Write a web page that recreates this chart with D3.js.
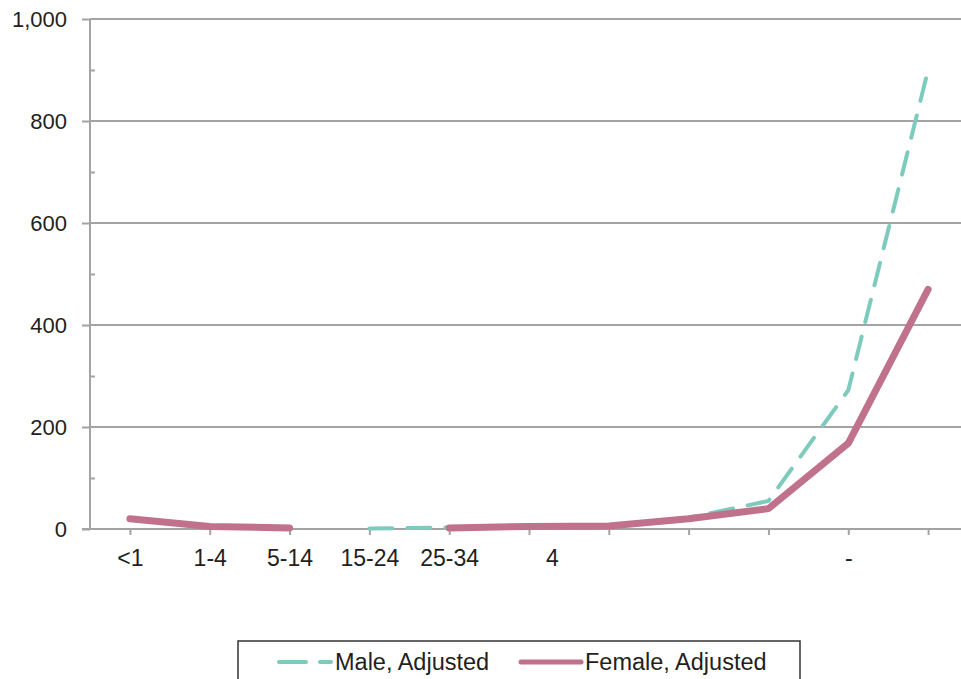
<!DOCTYPE html>
<html>
<head>
<meta charset="utf-8">
<script src="https://cdn.jsdelivr.net/npm/d3@7"></script>
<style>
  html, body { margin: 0; padding: 0; background: #fff; }
  svg { display: block; font-family: "Liberation Sans", Arial, sans-serif; }
</style>
</head>
<body>
<svg id="chart" width="961" height="679"></svg>
<script>
// ---- data ----
const categories = ["<1", "1-4", "5-14", "15-24", "25-34", "35-44", "45-54", "55-64", "65-74", "75-84", "85+"];
const tickLabels = ["<1", "1-4", "5-14", "15-24", "25-34", "4", "", "", "", "-", ""];
const maleAdjusted = [null, null, null, 1, 3, 5, 6, 22, 55, 272, 900];
const femaleAdjusted = [20, 5, 2, null, 2, 5, 6, 20, 40, 168, 470];
const yMajorTicks = [0, 200, 400, 600, 800, 1000];
const yMinorTicks = [100, 300, 500, 700, 900];
const seriesNames = ["Male, Adjusted", "Female, Adjusted"];

const svg = d3.select("#chart");
const gridColor = "#a3a3a3";
const textColor = "#231f20";
const maleColor = "#7ecbbe";
const femaleColor = "#c0728c";

const x = d3.scalePoint().domain(d3.range(categories.length)).range([90, 968]).padding(0.5);
const y = d3.scaleLinear().domain([0, 1000]).range([529, 19]);

// gridlines
svg.append("g").selectAll("line").data(yMajorTicks.filter(d => d > 0)).join("line")
  .attr("x1", 90).attr("x2", 961)
  .attr("y1", d => y(d)).attr("y2", d => y(d))
  .attr("stroke", gridColor).attr("stroke-width", 2);

// y axis major
const yAxis = svg.append("g").attr("transform", "translate(90,0)")
  .call(d3.axisLeft(y).tickValues(yMajorTicks).tickSize(8).tickPadding(15).tickFormat(d3.format(",")));
yAxis.select(".domain").remove();
yAxis.selectAll(".tick line").attr("stroke", gridColor).attr("stroke-width", 2);
yAxis.selectAll(".tick text").attr("fill", textColor).style("font-size", "22px")
  .style("font-family", "'Liberation Sans', Arial, sans-serif");

// y axis minor
const yMinor = svg.append("g").attr("transform", "translate(90,0)")
  .call(d3.axisRight(y).tickValues(yMinorTicks).tickSize(5).tickFormat(""));
yMinor.select(".domain").remove();
yMinor.selectAll(".tick line").attr("stroke", gridColor).attr("stroke-width", 2);

// y axis line
svg.append("line").attr("x1", 90).attr("x2", 90).attr("y1", y(1000)).attr("y2", y(0))
  .attr("stroke", gridColor).attr("stroke-width", 2);

// x axis
svg.append("line").attr("x1", 82).attr("x2", 961).attr("y1", y(0)).attr("y2", y(0))
  .attr("stroke", gridColor).attr("stroke-width", 2);
const xAxis = svg.append("g").attr("transform", `translate(0,${y(0)})`)
  .call(d3.axisBottom(x).tickSize(6).tickSizeOuter(0).tickPadding(15).tickFormat(i => tickLabels[i]));
xAxis.select(".domain").remove();
xAxis.selectAll(".tick line").attr("stroke", gridColor).attr("stroke-width", 2);
xAxis.selectAll(".tick text").attr("fill", textColor).style("font-size", "23px")
  .style("font-family", "'Liberation Sans', Arial, sans-serif")
  .attr("dx", i => tickLabels[i] === "4" ? 23 : 0);

// lines
const line = d3.line().defined(d => d != null).x((d, i) => x(i)).y(d => y(d));
svg.append("path").datum(maleAdjusted).attr("d", line)
  .attr("fill", "none").attr("stroke", maleColor).attr("stroke-width", 4)
  .attr("stroke-dasharray", "23 15").attr("stroke-linecap", "round").attr("stroke-linejoin", "round");
svg.append("path").datum(femaleAdjusted).attr("d", line)
  .attr("fill", "none").attr("stroke", femaleColor).attr("stroke-width", 7)
  .attr("stroke-linecap", "round").attr("stroke-linejoin", "round");

// legend
const lg = svg.append("g");
lg.append("rect").attr("x", 238).attr("y", 641).attr("width", 562).attr("height", 60)
  .attr("fill", "none").attr("stroke", "#333").attr("stroke-width", 1.5);
const ly = 662;
lg.append("line").attr("x1", 279).attr("x2", 331).attr("y1", ly).attr("y2", ly)
  .attr("stroke", maleColor).attr("stroke-width", 4).attr("stroke-dasharray", "27 14")
  .attr("stroke-linecap", "round");
lg.append("text").attr("x", 335).attr("y", ly).attr("dy", "0.36em").text(seriesNames[0])
  .attr("fill", textColor).style("font-size", "23.5px");
lg.append("line").attr("x1", 521).attr("x2", 581).attr("y1", ly).attr("y2", ly)
  .attr("stroke", femaleColor).attr("stroke-width", 5).attr("stroke-linecap", "round");
lg.append("text").attr("x", 585).attr("y", ly).attr("dy", "0.36em").text(seriesNames[1])
  .attr("fill", textColor).style("font-size", "23.5px");
</script>
</body>
</html>
